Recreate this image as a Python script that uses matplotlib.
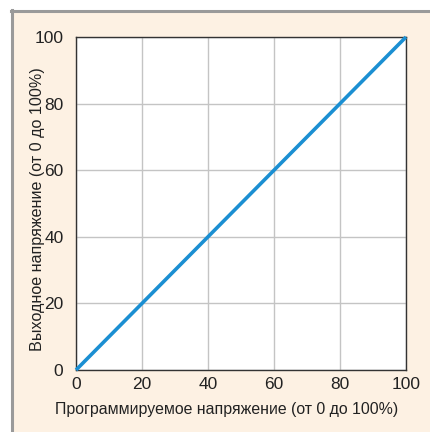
import matplotlib
matplotlib.use("Agg")
import matplotlib.pyplot as plt
from matplotlib.patches import Rectangle
from matplotlib.lines import Line2D

x_vals = [0, 100]
y_vals = [0, 100]
ticks = [0, 20, 40, 60, 80, 100]
xlabel = "Программируемое напряжение (от 0 до 100%)"
ylabel = "Выходное напряжение (от 0 до 100%)"

plt.rcParams['font.family'] = ['Liberation Sans', 'DejaVu Sans']

W, H = 430, 432
fig = plt.figure(figsize=(W/100, H/100), dpi=100, facecolor='white')

# cream panel with gray top/left border
fig.patches.append(Rectangle((12/W, 0), 1 - 12/W, 1 - 11/H, transform=fig.transFigure,
                             facecolor='#fdf1e3', edgecolor='none', zorder=-10))
fig.lines.append(Line2D([11.5/W, 11.5/W], [0, 1 - 10/H], transform=fig.transFigure,
                        color='#9a9a9a', lw=2.2, zorder=-5))
fig.lines.append(Line2D([10.5/W, 1], [1 - 11/H, 1 - 11/H], transform=fig.transFigure,
                        color='#9a9a9a', lw=2.2, zorder=-5))

ax = fig.add_axes([76/W, 1 - 370/H, (406 - 76)/W, (370 - 37)/H])
ax.set_facecolor('white')
ax.plot(x_vals, y_vals, color='#1b8fd2', lw=2.6, solid_capstyle='butt', clip_on=False, zorder=3)
ax.set_xlim(0, 100)
ax.set_ylim(0, 100)
ax.set_xticks(ticks)
ax.set_yticks(ticks)
ax.grid(True, color='#c4c4c4', lw=1.0)
ax.set_axisbelow(True)
for s in ax.spines.values():
    s.set_color('#333333')
    s.set_linewidth(1.0)
ax.tick_params(length=0, labelsize=12.5, colors='#222222')
ax.tick_params(axis='x', pad=5)
ax.tick_params(axis='y', pad=9)
ax.set_xlabel(xlabel, fontsize=11.4, color='#222222')
ax.set_ylabel(ylabel, fontsize=11.6, color='#222222')
ax.xaxis.set_label_coords(0.455, -0.095)
ax.yaxis.set_label_coords(-0.094, 0.483)

fig.savefig('out.png', dpi=100, facecolor='white')
